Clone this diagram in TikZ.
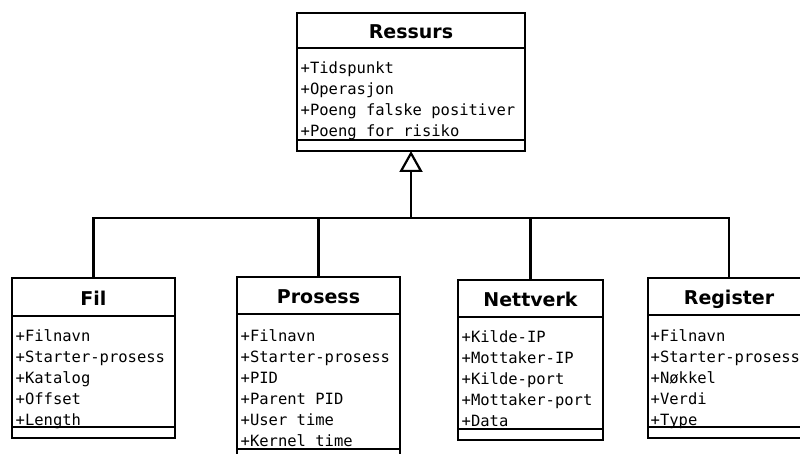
\documentclass[tikz,border=0pt]{standalone}
\usepackage{fontspec}
\setmainfont{DejaVu Sans}
\newfontfamily\monof{DejaVu Sans Mono}
\usetikzlibrary{arrows.meta}
\begin{document}
\begin{tikzpicture}[x=1pt,y=-1pt]
\tikzset{
  classbox/.style={draw, line width=2.2pt, fill=white, inner sep=0pt, outer sep=0pt, anchor=north west},
  ctitle/.style={font=\fontsize{19}{19}\selectfont\bfseries, inner sep=0pt, anchor=base},
  attr/.style={font=\monof\fontsize{15.5}{15.5}\selectfont, inner sep=0pt, anchor=base west},
  sepline/.style={line width=2.2pt},
  conn/.style={line width=2.2pt},
}
\useasboundingbox (0,0) rectangle (800,454);
\clip (0,0) rectangle (800,454);

% Ressurs
\node[classbox, minimum width=228pt, minimum height=138pt] (ressurs) at (297,13) {};
\draw[sepline] (297,48) -- (525,48);
\draw[sepline] (297,140) -- (525,140);
\node[ctitle] (ressursT) at (411,39) {Ressurs};
\foreach \t [count=\i] in {+Tidspunkt,+Operasjon,+Poeng falske positiver,+Poeng for risiko}
  \node[attr] (ressurs-a\i) at (300.5,{74+21*(\i-1)}) {\t};

% Fil
\node[classbox, minimum width=163pt, minimum height=160pt] (fil) at (12,278) {};
\draw[sepline] (12,316) -- (175,316);
\draw[sepline] (12,427) -- (175,427);
\node[ctitle] (filT) at (93.5,305.5) {Fil};
\foreach \t [count=\i] in {+Filnavn,+Starter-prosess,+Katalog,+Offset,+Length}
  \node[attr] (fil-a\i) at (15.5,{341+21*(\i-1)}) {\t};

% Prosess
\node[classbox, minimum width=163pt, minimum height=190pt] (pros) at (237,277) {};
\draw[sepline] (237,314) -- (400,314);
\draw[sepline] (237,449) -- (400,449);
\node[ctitle] (prosT) at (318.5,303.5) {Prosess};
\foreach \t [count=\i] in {+Filnavn,+Starter-prosess,+PID,+Parent PID,+User time,+Kernel time}
  \node[attr] (pros-a\i) at (240.5,{341+21*(\i-1)}) {\t};

% Nettverk
\node[classbox, minimum width=145pt, minimum height=160pt] (net) at (458,280) {};
\draw[sepline] (458,317) -- (603,317);
\draw[sepline] (458,429) -- (603,429);
\node[ctitle] (netT) at (530.5,306.5) {Nettverk};
\foreach \t [count=\i] in {+Kilde-IP,+Mottaker-IP,+Kilde-port,+Mottaker-port,+Data}
  \node[attr] (net-a\i) at (461.5,{342+21*(\i-1)}) {\t};

% Register
\node[classbox, minimum width=162pt, minimum height=160pt] (reg) at (648,278) {};
\draw[sepline] (648,315) -- (810,315);
\draw[sepline] (648,427) -- (810,427);
\node[ctitle] (regT) at (729,304.5) {Register};
\foreach \t [count=\i] in {+Filnavn,+Starter-prosess,+Nøkkel,+Verdi,+Type}
  \node[attr] (reg-a\i) at (650.5,{341+21*(\i-1)}) {\t};

% Generalisation connectors
\coordinate (junc) at (ressurs.south |- 0,218);
\draw[conn] (fil.north) |- (junc) -| (reg.north);
\draw[conn] (pros.north) -- (pros.north |- junc);
\draw[conn] (net.north) -- (net.north |- junc);
\draw[conn, -{Triangle[open, length=21pt, width=23pt]}] (junc) -- (ressurs.south);
\end{tikzpicture}
\end{document}
